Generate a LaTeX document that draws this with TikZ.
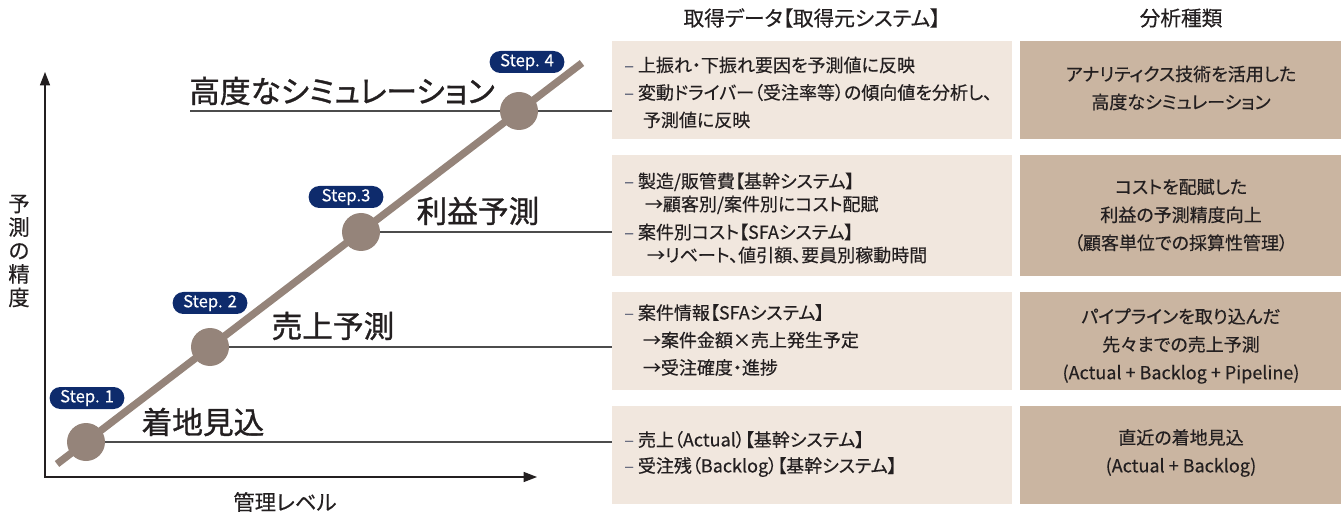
\documentclass[tikz,border=0pt]{standalone}
\usepackage{fontspec}
\setmainfont{Noto Sans CJK JP}[RawFeature=+palt,FakeBold=0.35]
\newfontfamily\hdrfont{Noto Sans CJK JP}[RawFeature=+palt,FakeBold=0.35]
\newfontfamily\bigfont{Noto Sans CJK JP}[RawFeature=+palt,FakeBold=1.0]
\usetikzlibrary{arrows.meta}
\definecolor{navy}{HTML}{0E2B6C}
\definecolor{diagc}{HTML}{95847A}
\definecolor{boxl}{HTML}{F1E7DE}
\definecolor{boxr}{HTML}{CAB5A1}
\definecolor{txt}{HTML}{231F20}
\definecolor{dashc}{HTML}{6A6E80}
\newcommand{\dsh}{{\color{dashc}–}\hspace{3pt}}
\begin{document}
\begin{tikzpicture}[x=0.75pt,y=-0.75pt,
  axis/.style={line width=1pt,txt,{Triangle[length=10pt,width=7.5pt]}-{Triangle[length=10pt,width=7.5pt]}},
  diag/.style={line width=5.5pt,diagc},
  stepdot/.style={circle,fill=diagc,minimum size=28.5pt,inner sep=0pt},
  hline/.style={line width=0.8pt,black!70},
  badge/.style={fill=navy,text=white,rounded corners=8pt,minimum width=56pt,minimum height=16.5pt,inner sep=0pt,font=\fontsize{12.5}{12.5}\selectfont},
  biglabel/.style={text=txt,inner sep=0pt,font=\bigfont\fontsize{23}{23}\selectfont},
  boxL/.style={fill=boxl,anchor=north west,minimum width=300pt,inner sep=0pt},
  boxR/.style={fill=boxr,anchor=north west,minimum width=240.75pt,inner sep=0pt},
  ltext/.style={text=txt,anchor=west,align=left,inner sep=0pt},
  rtext/.style={text=txt,align=center,inner sep=0pt,font=\fontsize{13.5}{21}\selectfont},
  header/.style={text=txt,inner sep=0pt,font=\hdrfont\fontsize{15.5}{15.5}\selectfont},
  axlabel/.style={text=txt,inner sep=0pt,font=\fontsize{16}{17.6}\selectfont,align=center}
]
\useasboundingbox (0,0) rectangle (1344,516);

% headers
\node[header] (h1) at (812,18) {取得データ【取得元システム】};
\node[header] (h2) at (1181,18) {分析種類};

% boxes
\node[boxL,minimum height=73.5pt] (b4) at (612,41) {};
\node[boxL,minimum height=90.75pt] (b3) at (612,155) {};
\node[boxL,minimum height=73.5pt] (b2) at (612,292) {};
\node[boxL,minimum height=73.5pt] (b1) at (612,406) {};
\node[boxR,minimum height=73.5pt] (r4) at (1020,41) {};
\node[boxR,minimum height=90.75pt] (r3) at (1020,155) {};
\node[boxR,minimum height=73.5pt] (r2) at (1020,292) {};
\node[boxR,minimum height=73.5pt] (r1) at (1020,406) {};

% left texts
\node[ltext,font=\fontsize{13.5}{20.6}\selectfont] (t4) at (624,92.5)
 {\dsh 上振れ・下振れ要因を予測値に反映\\
  \dsh 変動ドライバー（受注率等）の傾向値を分析し、\\
  \hspace{14pt}予測値に反映};
\node[ltext,font=\fontsize{13.5}{17.25}\selectfont] (t3) at (624,218)
 {\dsh 製造/販管費【基幹システム】\\
  \hspace{15.5pt}→顧客別/案件別にコスト配賦\\[3.75pt]
  \dsh 案件別コスト【SFAシステム】\\
  \hspace{17pt}→リベート、値引額、要員別稼動時間};
\node[ltext,font=\fontsize{13.5}{20.6}\selectfont] (t2) at (624,340)
 {\dsh 案件情報【SFAシステム】\\
  \hspace{14pt}→案件金額×売上発生予定\\
  \hspace{14pt}→受注確度・進捗};
\node[ltext,font=\fontsize{13.5}{19.5}\selectfont] (t1) at (624,454)
 {\dsh 売上（Actual）【基幹システム】\\
  \dsh 受注残（Backlog）【基幹システム】};

% right texts
\node[rtext] (s4) at (1181,88) {アナリティクス技術を活用した\\高度なシミュレーション};
\node[rtext] (s3) at (1181,215) {コストを配賦した\\利益の予測精度向上\\（顧客単位での採算性管理）};
\node[rtext] (s2) at (1181,346) {パイプラインを取り込んだ\\先々までの売上予測\\(Actual + Backlog + Pipeline)};
\node[rtext] (s1) at (1181,453) {直近の着地見込\\(Actual + Backlog)};

% axes
\coordinate (O) at (45,477);
\coordinate (Ytip) at (45,72);
\coordinate (Xtip) at (537,477);
\draw[axis] (Ytip) -- (O) -- (Xtip);
\node[axlabel] (ylab) at (19,251) {予\\測\\の\\精\\度};
\node[axlabel] (xlab) at (285,502) {管理レベル};

% step dots (positions)
\coordinate (d1) at (86,442);
\coordinate (d2) at (210,347);
\coordinate (d3) at (361,232);
\coordinate (d4) at (519,111);
\coordinate (l4) at (190,111);

% horizontal lines
\draw[hline] (l4) -- (l4 -| b4.west);
\draw[hline] (d3) -- (d3 -| b3.west);
\draw[hline] (d2) -- (d2 -| b2.west);
\draw[hline] (d1) -- (d1 -| b1.west);

% diagonal
\coordinate (ds) at (57,464);
\coordinate (de) at (582,63);
\draw[diag] (ds) -- (de);
\node[stepdot] (c1) at (d1) {};
\node[stepdot] (c2) at (d2) {};
\node[stepdot] (c3) at (d3) {};
\node[stepdot] (c4) at (d4) {};

% badges
\node[badge] (st4) at (527,62) {Step. 4};
\node[badge] (st3) at (346,197) {Step.3};
\node[badge] (st2) at (210,303) {Step. 2};
\node[badge] (st1) at (87,398) {Step. 1};

% big labels
\node[biglabel,anchor=west] (lab4) at (189,91) {高度なシミュレーション};
\node[biglabel] (lab3) at (478,211) {利益予測};
\node[biglabel] (lab2) at (333,326) {売上予測};
\node[biglabel] (lab1) at (203,422) {着地見込};
\end{tikzpicture}
\end{document}
